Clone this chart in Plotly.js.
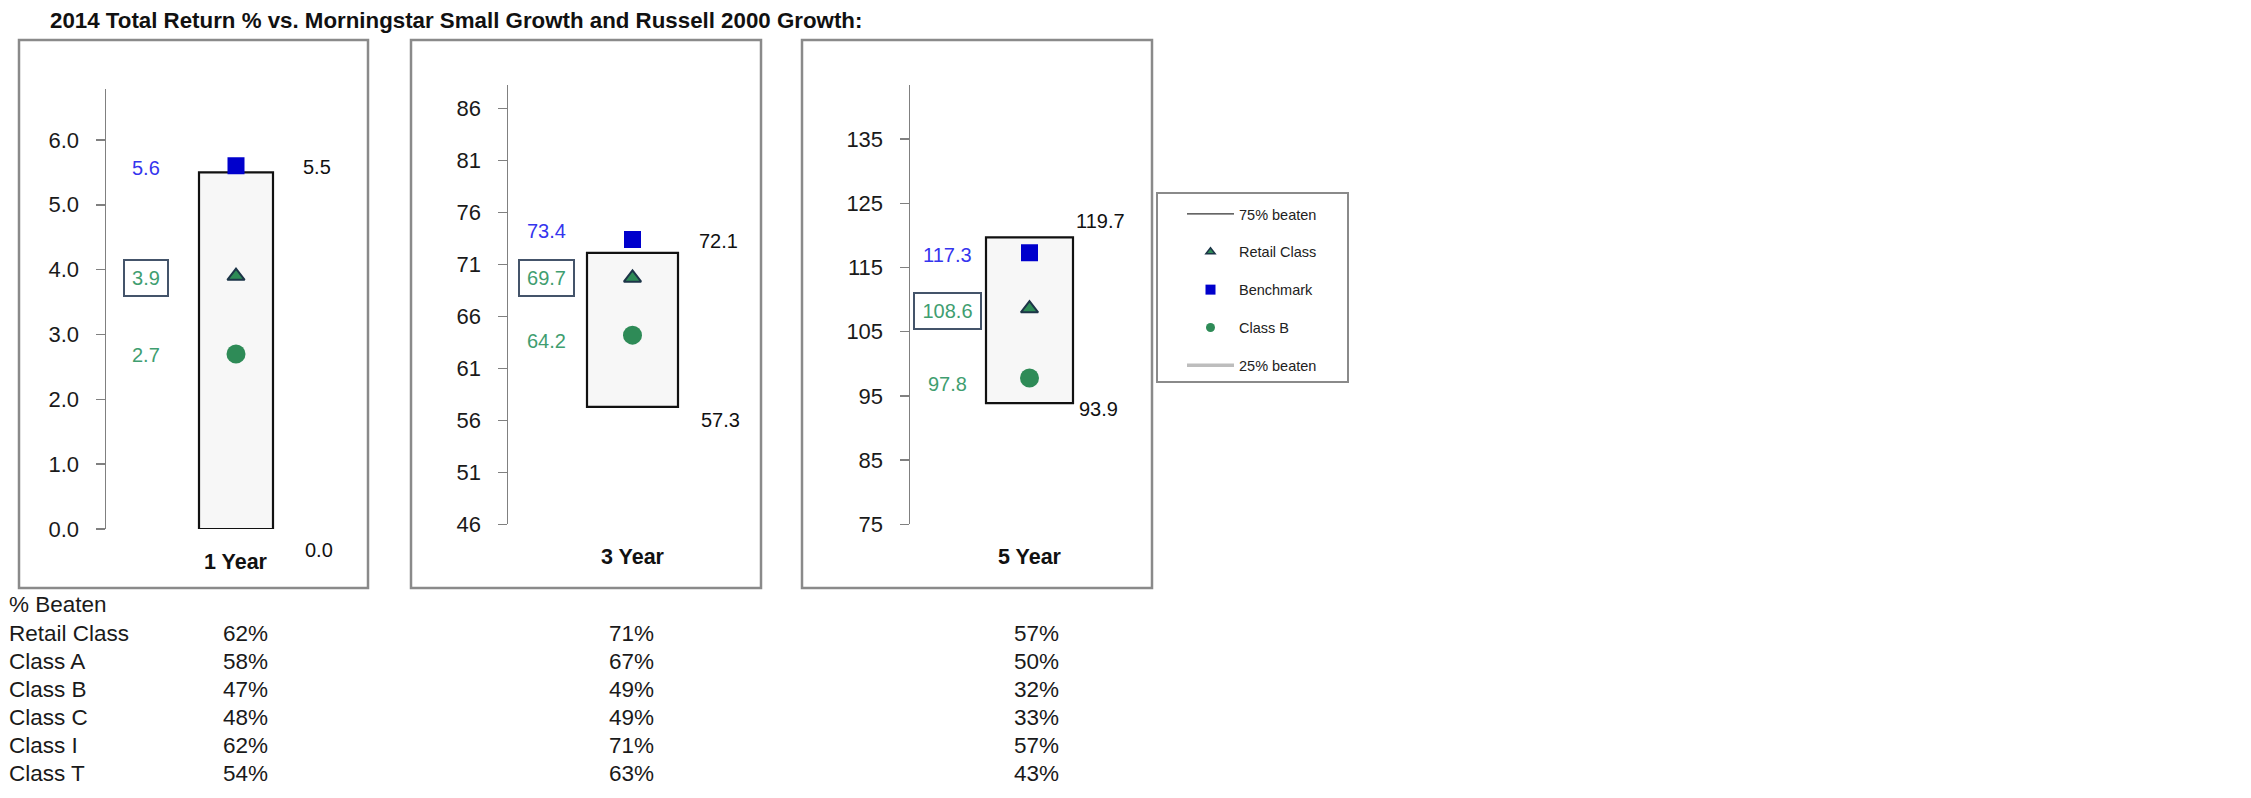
<!DOCTYPE html>
<html>
<head>
<meta charset="utf-8">
<script src="https://cdn.plot.ly/plotly-3.0.1.min.js"></script>
<style>html,body{margin:0;padding:0;background:#fff;}#chart{width:2251px;height:798px;}</style>
</head>
<body>
<div id="chart"></div>
<script>
// ---------------- DATA ----------------
const chartTitle = '2014 Total Return % vs. Morningstar Small Growth and Russell 2000 Growth:';
const periods = ['1 Year', '3 Year', '5 Year'];
const benchmark = [5.6, 73.4, 117.3];
const retailClass = [3.9, 69.7, 108.6];
const classB = [2.7, 64.2, 97.8];
const beaten75 = [5.5, 72.1, 119.7];   // top of box (75% beaten)
const beaten25 = [0.0, 57.3, 93.9];    // bottom of box (25% beaten)
const yTicks1 = [0, 1, 2, 3, 4, 5, 6];
const yTicks3 = [46, 51, 56, 61, 66, 71, 76, 81, 86];
const yTicks5 = [75, 85, 95, 105, 115, 125, 135];
const legendNames = ['75% beaten', 'Retail Class', 'Benchmark', 'Class B', '25% beaten'];
const tableHeader = '% Beaten';
const rowLabels = ['Retail Class', 'Class A', 'Class B', 'Class C', 'Class I', 'Class T'];
const beaten1Y = [62, 58, 47, 48, 62, 54];
const beaten3Y = [71, 67, 49, 49, 71, 63];
const beaten5Y = [57, 50, 32, 33, 57, 43];

// ---------------- LAYOUT CONFIG (pixels) ----------------
const W = 2251, H = 798;
const px = v => v / W;
const py = v => 1 - v / H;
const FONT = 'Arial, "Liberation Sans", sans-serif';
const C_BLUE = '#0000cc', C_GREEN = '#2e8b57', C_LBL_BLUE = '#3535ee', C_LBL_GREEN = '#3f9e70';

const panels = [
  {frame: [19, 40, 368, 588], axisX: 106, right: 366, top: 89.3, bot: 529.1, range: [0, 6.78], ticks: yTicks1, fmt: '.1f', barW: 74,
   hiX: 317, loX: 319, hiShift: 5, loShift: -21, benchShift: -2, retailShift: -2, bShift: -1, retailBox: 38},
  {frame: [411, 40, 761, 588], axisX: 508, right: 757, top: 84.5, bot: 524.4, range: [46, 88.3], ticks: yTicks3, fmt: 'd', barW: 91,
   hiX: 718, loX: 720, hiShift: 12, loShift: -13, benchShift: 8, retailShift: 0, bShift: -6, retailBox: 49},
  {frame: [802, 40, 1152, 588], axisX: 910, right: 1149, top: 84.5, bot: 524.4, range: [75, 143.5], ticks: yTicks5, fmt: 'd', barW: 87,
   hiX: 1100, loX: 1098, hiShift: 16, loShift: -6, benchShift: -2, retailShift: -2, bShift: -6, retailBox: 61}
];

const traces = [];
const annotations = [];
const shapes = [];
const layout = {
  width: W, height: H,
  margin: {l: 0, r: 0, t: 0, b: 0},
  paper_bgcolor: '#fff', plot_bgcolor: 'rgba(0,0,0,0)',
  font: {family: FONT, size: 20, color: '#1a1a1a'},
  showlegend: true,
  title: {text: chartTitle, x: px(50), xanchor: 'left', xref: 'paper', y: py(20), yanchor: 'middle', yref: 'paper',
          font: {family: FONT, size: 22.3, weight: 700, color: '#111'}},
  legend: {x: px(1182), y: py(198), xanchor: 'left', yanchor: 'top', bgcolor: 'rgba(0,0,0,0)', borderwidth: 0,
           font: {family: FONT, size: 14.5, color: '#222'}, tracegroupgap: 16, itemwidth: 47, traceorder: 'grouped'},
  bargap: 0
};

panels.forEach((p, i) => {
  const sfx = i === 0 ? '' : String(i + 1);
  const xa = 'x' + sfx, ya = 'y' + sfx;
  const domW = p.right - p.axisX;
  layout['xaxis' + sfx] = {domain: [px(p.axisX), px(p.right)], range: [0, 1], anchor: ya, showgrid: false, zeroline: false,
                           showticklabels: false, showline: false, ticks: '', fixedrange: true};
  layout['yaxis' + sfx] = {domain: [py(p.bot), py(p.top)], range: p.range, anchor: xa, showgrid: false, zeroline: false,
                           showline: true, linecolor: '#808080', linewidth: 1.5, ticks: 'outside', ticklen: 9, tickwidth: 1.5,
                           tickcolor: '#808080', tickvals: p.ticks, tickformat: p.fmt, ticklabelstandoff: 12,
                           tickfont: {family: FONT, size: 22, color: '#1a1a1a'}, fixedrange: true};
  // panel frame
  shapes.push({type: 'rect', xref: 'paper', yref: 'paper', x0: px(p.frame[0]), x1: px(p.frame[2]), y0: py(p.frame[3]), y1: py(p.frame[1]),
               line: {color: '#8a8a8a', width: 2.5}, fillcolor: 'rgba(0,0,0,0)', layer: 'below'});
  // 25%-75% box
  traces.push({type: 'bar', x: [0.5], y: [beaten75[i] - beaten25[i]], base: [beaten25[i]], width: [p.barW / domW],
               xaxis: xa, yaxis: ya, marker: {color: '#f7f7f7', line: {color: '#111', width: 2.2}}, showlegend: false, hoverinfo: 'skip'});
  // markers
  traces.push({type: 'scatter', mode: 'markers', x: [0.5], y: [benchmark[i]], xaxis: xa, yaxis: ya, showlegend: false,
               marker: {symbol: 'square', size: 17, color: C_BLUE}});
  traces.push({type: 'scatter', mode: 'markers', x: [0.5], y: [retailClass[i]], xaxis: xa, yaxis: ya, showlegend: false,
               marker: {symbol: 'triangle-up', size: 15, color: C_GREEN, line: {color: '#1d3548', width: 2}}});
  traces.push({type: 'scatter', mode: 'markers', x: [0.5], y: [classB[i]], xaxis: xa, yaxis: ya, showlegend: false,
               marker: {symbol: 'circle', size: 19, color: C_GREEN}});
  const leftX = 0.155;
  annotations.push({xref: xa, yref: ya, x: leftX, y: benchmark[i], text: benchmark[i].toFixed(1), showarrow: false,
                    yshift: p.benchShift, font: {size: 20, color: C_LBL_BLUE}});
  annotations.push({xref: xa, yref: ya, x: leftX, y: retailClass[i], text: retailClass[i].toFixed(1), showarrow: false,
                    yshift: p.retailShift, font: {size: 20, color: C_LBL_GREEN}, bordercolor: '#44546a', borderwidth: 2, borderpad: 2,
                    width: p.retailBox, height: 30, bgcolor: '#fff'});
  annotations.push({xref: xa, yref: ya, x: leftX, y: classB[i], text: classB[i].toFixed(1), showarrow: false,
                    yshift: p.bShift, font: {size: 20, color: C_LBL_GREEN}});
  annotations.push({xref: xa, yref: ya, x: (p.hiX - p.axisX) / domW, y: beaten75[i], text: beaten75[i].toFixed(1), showarrow: false,
                    yshift: p.hiShift, font: {size: 20, color: '#111'}});
  annotations.push({xref: xa, yref: ya, x: (p.loX - p.axisX) / domW, y: beaten25[i], text: beaten25[i].toFixed(1), showarrow: false,
                    yshift: p.loShift, font: {size: 20, color: '#111'}});
  annotations.push({xref: xa, yref: ya + ' domain', x: 0.5, y: 0, yshift: -33, yanchor: 'middle', text: '<b>' + periods[i] + '</b>',
                    showarrow: false, font: {size: 21.5, color: '#111'}});
});

// legend-only traces
const legendStyles = [
  {mode: 'lines', line: {color: '#333', width: 1.2}},
  {mode: 'markers', marker: {symbol: 'triangle-up', size: 8, color: C_GREEN, line: {color: '#1d3548', width: 1.5}}},
  {mode: 'markers', marker: {symbol: 'square', size: 10, color: C_BLUE}},
  {mode: 'markers', marker: {symbol: 'circle', size: 9, color: C_GREEN}},
  {mode: 'lines', line: {color: '#bdbdbd', width: 3.5}}
];
legendNames.forEach((n, k) => {
  traces.push(Object.assign({type: 'scatter', x: [null], y: [null], name: n, legendgroup: 'g' + k, showlegend: true,
                             xaxis: 'x', yaxis: 'y', hoverinfo: 'skip'}, legendStyles[k]));
});
shapes.push({type: 'rect', xref: 'paper', yref: 'paper', x0: px(1157), x1: px(1348), y0: py(382), y1: py(193),
             line: {color: '#8a8a8a', width: 2}, fillcolor: '#fff', layer: 'below'});

// table
const rowY0 = 633, rowStep = 28;
const TFS = 22.5;
annotations.push({xref: 'paper', yref: 'paper', x: px(7), y: py(604), xanchor: 'left', yanchor: 'middle', text: tableHeader,
                  showarrow: false, font: {size: TFS, color: '#1a1a1a'}});
const cols = [beaten1Y, beaten3Y, beaten5Y];
const colX = [221, 607, 1012];
rowLabels.forEach((lab, r) => {
  const yy = py(rowY0 + r * rowStep);
  annotations.push({xref: 'paper', yref: 'paper', x: px(7), y: yy, xanchor: 'left', yanchor: 'middle', text: lab,
                    showarrow: false, font: {size: TFS, color: '#1a1a1a'}});
  cols.forEach((col, c) => {
    annotations.push({xref: 'paper', yref: 'paper', x: px(colX[c]), y: yy, xanchor: 'left', yanchor: 'middle', text: col[r] + '%',
                      showarrow: false, font: {size: TFS, color: '#1a1a1a'}});
  });
});

layout.annotations = annotations;
layout.shapes = shapes;
Plotly.newPlot('chart', traces, layout, {displayModeBar: false, staticPlot: true});
</script>
</body>
</html>
